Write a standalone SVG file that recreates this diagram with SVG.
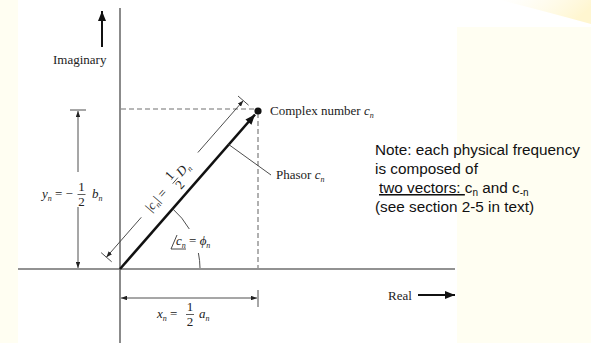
<svg xmlns="http://www.w3.org/2000/svg" width="591" height="343" viewBox="0 0 591 343">
<defs>
<style>
.ax{stroke:#6e6e6e;stroke-width:1.6;fill:none}
.dash{stroke:#707070;stroke-width:1.1;stroke-dasharray:5 3;fill:none}
.dim{stroke:#3a3a3a;stroke-width:0.9;fill:none}
.thick{stroke:#111;stroke-width:2.6;fill:none}
.lbl{font-family:"Liberation Serif","Times New Roman",serif;font-size:13px;fill:#222}
.var{font-family:"Liberation Serif","Times New Roman",serif;font-size:13px;font-style:italic;fill:#222}
.sub{font-size:8px}
.note{font-family:"Liberation Sans",Arial,sans-serif;font-size:15.3px;fill:#111}
</style>
<marker id="sa" viewBox="0 0 8 6" refX="8" refY="3" markerWidth="6" markerHeight="4.5" markerUnits="userSpaceOnUse" orient="auto-start-reverse">
<path d="M0,0 L8,3 L0,6 z" fill="#222"/>
</marker>
<marker id="ba" viewBox="0 0 10 8" refX="10" refY="4" markerWidth="11" markerHeight="8" markerUnits="userSpaceOnUse" orient="auto">
<path d="M0,0 L10,4 L0,8 z" fill="#111"/>
</marker>
<linearGradient id="sw" x1="0" y1="0" x2="1" y2="0.3">
<stop offset="0" stop-color="#fffbe6" stop-opacity="0"/>
<stop offset="1" stop-color="#fff6d0"/>
</linearGradient>
</defs>

<g id="background">
<rect x="0" y="0" width="591" height="343" fill="#fffef2"/>
<rect x="457" y="0" width="134" height="27" fill="#ffffff"/>
<path d="M500,0 L591,0 L591,24 Q540,10 500,0 z" fill="url(#sw)"/>
<rect x="18" y="0" width="439" height="343" fill="#ffffff"/>
</g>

<g id="connectors">
<line class="ax" x1="120" y1="8" x2="120" y2="343"/>
<line class="ax" x1="18" y1="269" x2="455" y2="269"/>
<line class="dash" x1="121" y1="109" x2="256" y2="109"/>
<line class="dash" x1="258" y1="113" x2="258" y2="268"/>
<line class="thick" x1="120" y1="269" x2="255" y2="114.5" marker-end="url(#ba)"/>
<line x1="102" y1="47" x2="102" y2="11" stroke="#111" stroke-width="2" marker-end="url(#ba)"/>
<line x1="418" y1="295" x2="455" y2="295" stroke="#111" stroke-width="2" marker-end="url(#ba)"/>
<line class="dim" x1="70" y1="110" x2="86" y2="110"/>
<line class="dim" x1="78" y1="172" x2="78" y2="111" marker-end="url(#sa)"/>
<line class="dim" x1="78" y1="207" x2="78" y2="268" marker-end="url(#sa)"/>
<line class="dim" x1="121" y1="298" x2="257" y2="298" marker-start="url(#sa)" marker-end="url(#sa)"/>
<line class="dim" x1="258" y1="290" x2="258" y2="307"/>
<line class="dim" x1="101.1" y1="252.6" x2="111.7" y2="261.8"/>
<line class="dim" x1="238" y1="96" x2="248.6" y2="105.2"/>
<line class="dim" x1="141.3" y1="217.3" x2="106.4" y2="257.2" marker-end="url(#sa)"/>
<line class="dim" x1="197.9" y1="152.5" x2="243.3" y2="100.6" marker-end="url(#sa)"/>
<path class="dim" d="M172.6,208.7 A80,80 0 0 1 189.3,229"/>
<path class="dim" d="M198.4,253 A80,80 0 0 1 200,268"/>
<line class="dim" x1="228" y1="144" x2="271" y2="175"/>
</g>

<g id="point">
<circle cx="258" cy="111" r="3.6" fill="#111"/>
</g>

<g id="imaginary-label">
<text class="lbl" x="53" y="64">Imaginary</text>
</g>

<g id="real-label">
<text class="lbl" x="388" y="300">Real</text>
</g>

<g id="complex-label">
<text class="lbl" x="270" y="115">Complex number <tspan class="var">c</tspan><tspan class="var sub" dy="3">n</tspan></text>
</g>

<g id="phasor-label">
<text class="lbl" x="276" y="179">Phasor <tspan class="var">c</tspan><tspan class="var sub" dy="3">n</tspan></text>
</g>

<g id="yn-label">
<text class="var" x="42" y="198">y<tspan class="sub" dy="3">n</tspan><tspan dy="-3" font-style="normal"> = −</tspan></text>
<text class="lbl" x="81.5" y="191" text-anchor="middle" font-size="11">1</text>
<line x1="77.5" y1="194.5" x2="85.5" y2="194.5" stroke="#333" stroke-width="0.8"/>
<text class="lbl" x="81.5" y="206" text-anchor="middle" font-size="11">2</text>
<text class="var" x="92" y="198">b<tspan class="sub" dy="3">n</tspan></text>
</g>

<g id="xn-label">
<text class="var" x="157" y="318">x<tspan class="sub" dy="3">n</tspan><tspan dy="-3" font-style="normal"> =</tspan></text>
<text class="lbl" x="190" y="311" text-anchor="middle" font-size="11">1</text>
<line x1="186" y1="314.5" x2="194" y2="314.5" stroke="#333" stroke-width="0.8"/>
<text class="lbl" x="190" y="326" text-anchor="middle" font-size="11">2</text>
<text class="var" x="199" y="318">a<tspan class="sub" dy="3">n</tspan></text>
</g>

<g id="magnitude-label" transform="translate(169.6,184.9) rotate(-48.9)">
<text class="lbl" x="-33" y="4">|<tspan class="var">c</tspan><tspan class="var sub" dy="3">n</tspan><tspan dy="-3">| =</tspan></text>
<text class="lbl" x="7" y="-2" text-anchor="middle" font-size="11">1</text>
<line x1="3" y1="1.5" x2="11" y2="1.5" stroke="#333" stroke-width="0.8"/>
<text class="lbl" x="7" y="12" text-anchor="middle" font-size="11">2</text>
<text class="var" x="14" y="4">D<tspan class="sub" dy="3">n</tspan></text>
</g>

<g id="angle-label">
<line x1="171" y1="249" x2="177" y2="235" stroke="#333" stroke-width="0.9"/>
<line x1="171" y1="249" x2="186" y2="249" stroke="#333" stroke-width="0.9"/>
<text class="var" x="176" y="245">c<tspan class="sub" dy="3">n</tspan><tspan dy="-3" font-style="normal"> = </tspan>ϕ<tspan class="sub" dy="3">n</tspan></text>
</g>

<g id="note">
<text class="note" x="375" y="155">Note: each physical frequency</text>
<text class="note" x="375" y="174">is composed of</text>
<text class="note" y="193" xml:space="preserve"><tspan x="379" text-decoration="underline">two vectors: </tspan>c<tspan font-size="10" dy="3">n</tspan><tspan dy="-3"> and c</tspan><tspan font-size="10" dy="3">-n</tspan></text>
<text class="note" x="375" y="212">(see section 2-5 in text)</text>
</g>
</svg>
